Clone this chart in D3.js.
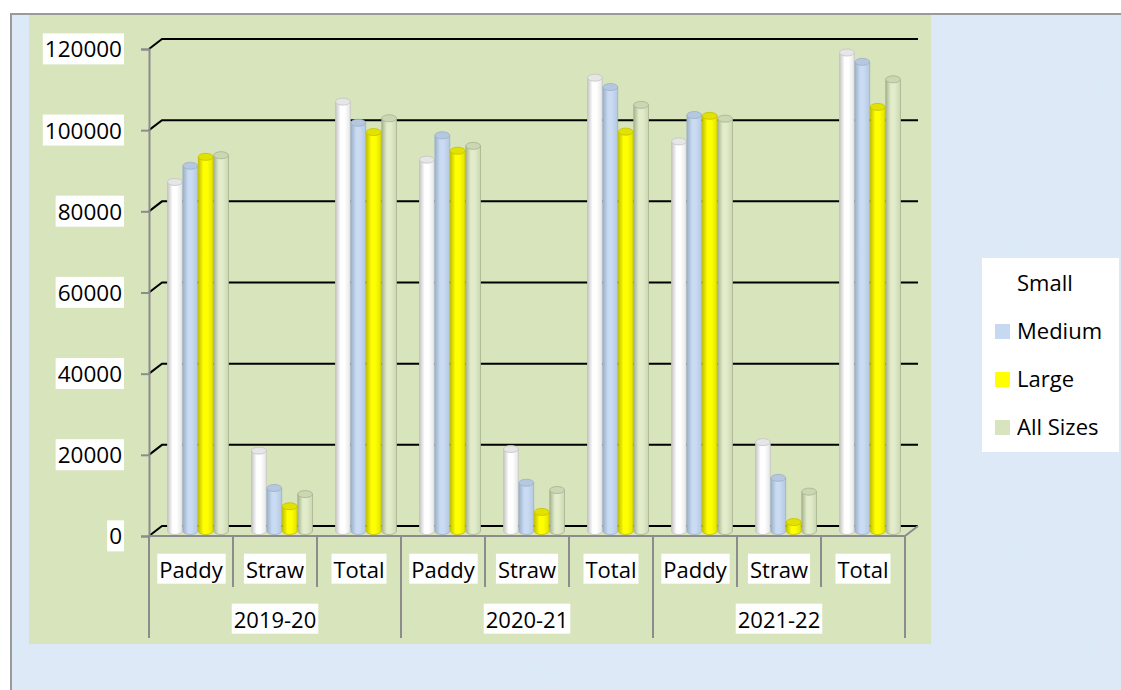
<!DOCTYPE html>
<html>
<head>
<meta charset="utf-8">
<script src="https://cdn.jsdelivr.net/npm/d3@7"></script>
<style>
  body { margin: 0; background: #fff; }
  text { font-family: "Open Sans", sans-serif; fill: #000; }
</style>
</head>
<body>
<svg id="chart"></svg>
<script>
const years = ["2019-20", "2020-21", "2021-22"];
const items = ["Paddy", "Straw", "Total"];
const sizes = ["Small", "Medium", "Large", "All Sizes"];
const yTicks = [0, 20000, 40000, 60000, 80000, 100000, 120000];

// values per size, in order: Paddy/Straw/Total for 2019-20, 2020-21, 2021-22
const small   = [86000, 19800, 105800, 91500, 20200, 111700, 96000, 21900, 117900];
const medium  = [90000, 10600, 100600, 97500, 11900, 109400, 102500, 13100, 115600];
const large   = [92200, 6100, 98300, 93700, 4700, 98400, 102300, 2200, 104500];
const allSizes = [92600, 9100, 101700, 94900, 10100, 105000, 101600, 9700, 111300];

const seriesValues = [small, medium, large, allSizes];
const colors = {
  "Small":     ["#c4c4c4", "#ffffff", "#e6e6e6"],
  "Medium":    ["#9bb0ca", "#c9dbf2", "#b5c8e0"],
  "Large":     ["#c2c200", "#ffff00", "#e2e200"],
  "All Sizes": ["#a7b390", "#e2ecca", "#cbd6b3"]
};
const swatch = { "Small": "#ffffff", "Medium": "#c6d9f1", "Large": "#ffff00", "All Sizes": "#d7e4bd" };

const W = 1121, H = 690;
const svg = d3.select("#chart").attr("width", W).attr("height", H);

const defs = svg.append("defs");
sizes.forEach((s, i) => {
  const g = defs.append("linearGradient").attr("id", "cyl" + i)
    .attr("x1", "0%").attr("x2", "100%").attr("y1", "0%").attr("y2", "0%");
  g.append("stop").attr("offset", "0%").attr("stop-color", colors[s][0]);
  g.append("stop").attr("offset", "35%").attr("stop-color", colors[s][1]);
  g.append("stop").attr("offset", "60%").attr("stop-color", colors[s][1]);
  g.append("stop").attr("offset", "100%").attr("stop-color", colors[s][2]);
});

// soft paper texture for the outer background
const tex = defs.append("filter").attr("id", "tex").attr("x", 0).attr("y", 0)
  .attr("width", "100%").attr("height", "100%");
tex.append("feTurbulence").attr("type", "fractalNoise").attr("baseFrequency", 0.035)
  .attr("numOctaves", 3).attr("seed", 4).attr("result", "noise");
tex.append("feColorMatrix").attr("in", "noise").attr("type", "matrix")
  .attr("values", "0 0 0 0 0.75  0 0 0 0 0.82  0 0 0 0 0.92  0 0 0 0.35 0").attr("result", "tint");
tex.append("feComposite").attr("in", "tint").attr("in2", "SourceGraphic").attr("operator", "atop");

// background
svg.append("rect").attr("x", 10).attr("y", 13).attr("width", W - 10).attr("height", H - 13)
  .attr("fill", "#dce9f7").attr("filter", "url(#tex)");
svg.append("path").attr("d", `M11,${H}V14H${W}`).attr("fill", "none")
  .attr("stroke", "#9a9a9a").attr("stroke-width", 2);
svg.append("rect").attr("x", 29).attr("y", 15).attr("width", 902).attr("height", 629)
  .attr("fill", "#d8e4bc");

const left = 149, right = 905, depthX = 13, depthY = -10;
const y = d3.scaleLinear().domain([0, 120000]).range([536, 49]);

const cats = [];
years.forEach(yr => items.forEach(it => cats.push(yr + "|" + it)));
const x0 = d3.scaleBand().domain(cats).range([left, right]);
const x1 = d3.scaleBand().domain(sizes).range([12, 73]).paddingInner(0.04);

// gridlines on back wall
const grid = svg.append("g");
yTicks.forEach(t => {
  grid.append("path")
    .attr("d", `M${left},${y(t)}L${left + depthX},${y(t) + depthY}H${right + depthX}`)
    .attr("fill", "none").attr("stroke", "#000").attr("stroke-width", 2);
});

// floor front edge
svg.append("path")
  .attr("d", `M${left},${y(0)}H${right}L${right + depthX},${y(0) + depthY}`)
  .attr("fill", "none").attr("stroke", "#8c8c8c").attr("stroke-width", 2);

// y axis
const yAxis = d3.axisLeft(y).tickValues(yTicks).tickSize(8).tickFormat(d3.format("d"));
const ya = svg.append("g").attr("transform", `translate(${left},0)`).call(yAxis);
ya.select(".domain").attr("stroke", "#8c8c8c").attr("stroke-width", 2);
ya.selectAll(".tick line").attr("stroke", "#8c8c8c").attr("stroke-width", 2);
ya.selectAll(".tick text").attr("x", -27).attr("font-size", 22.5)
  .attr("font-family", "Open Sans").attr("dy", "0.35em");

function boxText(sel) {
  sel.each(function () {
    const b = this.getBBox();
    d3.select(this.parentNode).insert("rect", () => this)
      .attr("x", b.x - 2).attr("y", b.y).attr("width", b.width + 4).attr("height", b.height)
      .attr("fill", "#fff");
  });
}
boxText(ya.selectAll(".tick text"));

// bars
const bars = svg.append("g");
const rx = x1.bandwidth() / 2, ry = 3.5;
cats.forEach((c, ci) => {
  sizes.forEach((s, si) => {
    const v = seriesValues[si][ci];
    const bx = x0(c) + x1(s) + depthX / 2;
    const base = y(0) + depthY / 2;
    const top = y(v) + depthY / 2;
    const g = bars.append("g");
    g.append("path")
      .attr("d", `M${bx},${top}V${base}A${rx},${ry} 0 0 0 ${bx + 2 * rx},${base}V${top}Z`)
      .attr("fill", `url(#cyl${si})`)
      .attr("stroke", colors[s][0]).attr("stroke-width", 0.8);
    g.append("ellipse")
      .attr("cx", bx + rx).attr("cy", top).attr("rx", rx).attr("ry", ry)
      .attr("fill", colors[s][2]).attr("stroke", colors[s][0]).attr("stroke-width", 0.8);
  });
});

// category axis dividers
const axisG = svg.append("g").attr("stroke", "#8c8c8c").attr("stroke-width", 2);
cats.forEach((c, i) => {
  axisG.append("line").attr("x1", x0(c)).attr("x2", x0(c))
    .attr("y1", y(0)).attr("y2", i % 3 === 0 ? 638 : 587);
});
axisG.append("line").attr("x1", right).attr("x2", right).attr("y1", y(0)).attr("y2", 638);

const catLabels = svg.append("g");
cats.forEach(c => {
  catLabels.append("text").attr("x", x0(c) + x0.bandwidth() / 2).attr("y", 570)
    .attr("dy", "0.35em").attr("text-anchor", "middle").attr("font-size", 22)
    .text(c.split("|")[1]);
});
years.forEach(yr => {
  const cx = (x0(yr + "|Paddy") + x0(yr + "|Total") + x0.bandwidth()) / 2;
  catLabels.append("text").attr("x", cx).attr("y", 620)
    .attr("dy", "0.35em").attr("text-anchor", "middle").attr("font-size", 22)
    .text(yr);
});
boxText(catLabels.selectAll("text"));

// legend
const lg = svg.append("g");
lg.append("rect").attr("x", 982).attr("y", 258).attr("width", 137).attr("height", 194).attr("fill", "#fff");
const ly = d3.scalePoint().domain(sizes).range([283, 427]);
sizes.forEach(s => {
  lg.append("rect").attr("x", 995).attr("y", ly(s) - 7).attr("width", 15).attr("height", 15)
    .attr("fill", swatch[s]);
  lg.append("text").attr("x", 1017).attr("y", ly(s)).attr("dy", "0.35em")
    .attr("font-size", 22).text(s);
});
</script>
</body>
</html>
